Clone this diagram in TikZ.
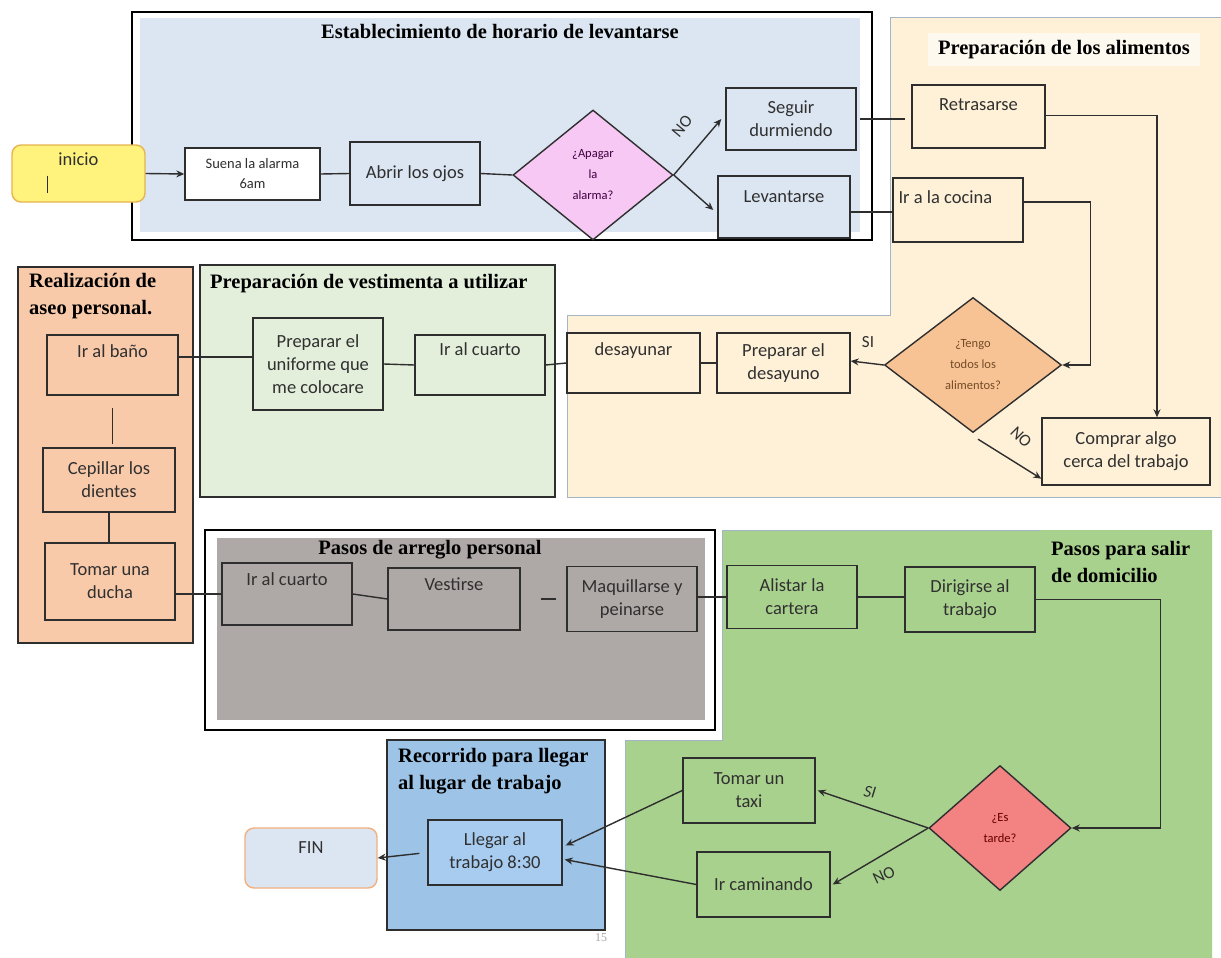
\documentclass[tikz,border=0pt]{standalone}
\usepackage{fontspec}
\usetikzlibrary{shapes.geometric,arrows.meta,calc}
\newfontfamily\boxfnt{Carlito}
\newfontfamily\ttlfnt{Liberation Serif}
\definecolor{lineclr}{HTML}{2E2E2E}
\definecolor{txtclr}{HTML}{303030}
\definecolor{estfill}{HTML}{DCE6F2}
\definecolor{pinkd}{HTML}{F6C8F3}
\definecolor{yelw}{HTML}{FFF27D}
\definecolor{yelwline}{HTML}{E6B450}
\definecolor{alimfill}{HTML}{FEF1D8}
\definecolor{alimline}{HTML}{A3B6C8}
\definecolor{orngd}{HTML}{F8C394}
\definecolor{aseofill}{HTML}{F9CAAA}
\definecolor{vestfill}{HTML}{E3EFDB}
\definecolor{grayfill}{HTML}{AEA8A6}
\definecolor{salirfill}{HTML}{A9D18E}
\definecolor{recfill}{HTML}{9DC3E6}
\definecolor{llegfill}{HTML}{A7CCF0}
\definecolor{finline}{HTML}{F2B07E}
\definecolor{redd}{HTML}{F38282}
\newcommand{\stepfont}{\boxfnt\fontsize{18.5}{23}\selectfont}
\tikzset{
  box/.style={draw=lineclr, line width=1.4pt, inner sep=2pt, align=center,
    text=txtclr, font=\stepfont},
  % text hanging from the top edge of a step box, #1 = baseline depth below the edge
  toplbl/.style={label={[anchor=base, yshift=-#1, inner sep=0pt, text=txtclr, font=\stepfont]north:\toptext}},
  dec/.style={diamond, draw=lineclr, line width=1.4pt, inner sep=0pt, align=center,
    font=\boxfnt\fontsize{12.5}{21}\selectfont},
  ttl/.style={font=\ttlfnt\bfseries\fontsize{20.5}{27}\selectfont, align=left, inner sep=0pt},
  conn/.style={draw=lineclr, line width=1.4pt},
  arr/.style={conn, -{Stealth[length=8pt,width=7pt]}},
  lbl/.style={font=\boxfnt\fontsize{17}{19}\selectfont, text=txtclr, inner sep=0pt}
}
\newcommand{\toptext}{}
\begin{document}
\begin{tikzpicture}[x=1pt,y=-1pt]
\useasboundingbox[fill=white] (0,0) rectangle (1221,958);

% ---------- group backgrounds ----------
% Preparación de los alimentos (L-shaped)
\fill[alimfill] (890,18) -- (1221,18) -- (1221,497) -- (567,497) -- (567,315) -- (890,315) -- cycle;
\draw[alimline, line width=1pt] (1221,18) -- (890,18) -- (890,315) -- (567,315) -- (567,497) -- (1221,497);
\fill[white!60!alimfill] (928,33) rectangle (1200,66);
\node[ttl] (ttlalim) at (1064,50) {Preparación de los alimentos};

% Establecimiento de horario de levantarse
\draw[black, line width=1.4pt] (132,12) rectangle (872,240);
\fill[estfill] (140,18) rectangle (860,232);
\node[ttl] (ttlest) at (500,31) {Establecimiento de horario de levantarse};

% Realización de aseo personal
\draw[lineclr, line width=1.4pt, fill=aseofill] (18,267) rectangle (193,643);
\node[ttl, anchor=north west] (ttlaseo) at (29,273) {Realización de\\aseo personal.};

% Preparación de vestimenta a utilizar
\draw[lineclr, line width=1.4pt, fill=vestfill] (200,265) rectangle (555,497);
\node[ttl, anchor=west] (ttlvest) at (210,284) {Preparación de vestimenta a utilizar};

% Pasos de arreglo personal
\draw[black, line width=1.4pt] (205,530) rectangle (715,730);
\fill[grayfill] (217,538) rectangle (705,720);
\node[ttl] (ttlarr) at (430,550) {Pasos de arreglo personal};

% Pasos para salir de domicilio (L-shaped)
\fill[salirfill] (722,530) -- (1212,530) -- (1212,958) -- (625,958) -- (625,740) -- (722,740) -- cycle;
\draw[alimline, line width=1pt] (1040,530) -- (722,530) -- (722,740) -- (625,740) -- (625,958);
\node[ttl, anchor=north west] (ttlsal) at (1051,541) {Pasos para salir\\de domicilio};

% Recorrido para llegar al lugar de trabajo
\draw[lineclr, line width=1.4pt, fill=recfill] (387,740) rectangle (605,930);
\node[ttl, anchor=north west] (ttlrec) at (398,748) {Recorrido para llegar\\al lugar de trabajo};
\node[font=\ttlfnt\fontsize{12}{14}\selectfont, text=gray!70] (pagenum) at (601,938) {15};

% ---------- steps ----------
\renewcommand{\toptext}{inicio}
\node[box, draw=yelwline, fill=yelw, rounded corners=9pt, minimum width=133, minimum height=57,
  toplbl=21pt] (inicio) at (78.5,173.5) {};
\draw[lineclr, line width=1.6pt] ($(inicio.center)+(-31,2)$) -- ++(0,17);

\node[box, fill=white, minimum width=135, minimum height=52, font=\boxfnt\fontsize{14.5}{20}\selectfont]
  (suena) at (252.5,174) {Suena la alarma\\6am};
\node[box, fill=estfill, minimum width=130, minimum height=63] (abrir) at (415,173.5) {Abrir los ojos};
\node[dec, fill=pinkd, minimum width=160, minimum height=130, text=violet!50!black] (apagar) at (593,175) {¿Apagar\\la\\alarma?};
\node[box, fill=estfill, minimum width=130, minimum height=62] (seguir) at (791,119) {Seguir\\durmiendo};
\renewcommand{\toptext}{Levantarse}
\node[box, fill=estfill, minimum width=132, minimum height=62, toplbl=27pt] (levan) at (784,207) {};

\renewcommand{\toptext}{Retrasarse}
\node[box, fill=alimfill, minimum width=133, minimum height=63, toplbl=26pt] (retras) at (978.5,116.5) {};
\node[box, fill=alimfill, minimum width=130, minimum height=64,
  label={[anchor=base west, xshift=6pt, yshift=-26pt, inner sep=0pt, text=txtclr, font=\stepfont]north west:Ir a la cocina}]
  (cocina) at (958,210) {};
\node[dec, fill=orngd, minimum width=177, minimum height=135, text=brown!60!black] (tengo) at (973,365) {¿Tengo\\todos los\\alimentos?};
\node[box, fill=alimfill, minimum width=133, minimum height=60] (prepdes) at (783.5,363) {Preparar el\\desayuno};
\renewcommand{\toptext}{desayunar}
\node[box, fill=alimfill, minimum width=133, minimum height=60, toplbl=23pt] (desay) at (633.5,363) {};
\node[box, fill=alimfill, minimum width=168, minimum height=67] (comprar) at (1126,451.5) {Comprar algo\\cerca del trabajo};

\renewcommand{\toptext}{Ir al baño}
\node[box, fill=aseofill, minimum width=131, minimum height=60, toplbl=23pt] (bano) at (112.5,365) {};
\node[box, fill=aseofill, minimum width=132, minimum height=64] (cepillar) at (109,480) {Cepillar los\\dientes};
\node[box, fill=aseofill, minimum width=130, minimum height=77] (ducha) at (110,581.5) {Tomar una\\ducha};

\node[box, fill=vestfill, minimum width=130, minimum height=92] (uniforme) at (318,364) {Preparar el\\uniforme que\\me colocare};
\renewcommand{\toptext}{Ir al cuarto}
\node[box, fill=vestfill, minimum width=130, minimum height=60, toplbl=21pt] (cuartoa) at (480,365) {};

\node[box, fill=grayfill, minimum width=130, minimum height=62, toplbl=23pt] (cuartob) at (287,594) {};
\renewcommand{\toptext}{Vestirse}
\node[box, fill=grayfill, minimum width=132, minimum height=62, toplbl=23pt] (vestirse) at (454,599) {};
\node[box, fill=grayfill, minimum width=130, minimum height=65] (maquil) at (632,599) {Maquillarse y\\peinarse};

\node[box, fill=salirfill, minimum width=130, minimum height=63] (alistar) at (792,597) {Alistar la\\cartera};
\node[box, fill=salirfill, minimum width=130, minimum height=65] (dirig) at (970,599.5) {Dirigirse al\\trabajo};
\node[dec, fill=redd, minimum width=142, minimum height=125, text=red!40!black] (tarde) at (1000,828) {¿Es\\tarde?};
\node[box, fill=salirfill, minimum width=132, minimum height=65] (taxi) at (749,790.5) {Tomar un\\taxi};
\node[box, fill=salirfill, minimum width=133, minimum height=65] (caminar) at (763.5,884.5) {Ir caminando};

\node[box, fill=llegfill, minimum width=134, minimum height=65] (llegar) at (495,852.5) {Llegar al\\trabajo 8:30};
\renewcommand{\toptext}{FIN}
\node[box, draw=finline, fill=estfill, rounded corners=9pt, minimum width=132, minimum height=60,
  toplbl=26pt] (fin) at (311,858) {};

% ---------- connectors ----------
\draw[arr] (inicio.east) -- (suena.west);
\draw[conn] (suena.east) -- (abrir.west);
\draw[conn] (abrir.east) -- (apagar.west);
\draw[arr] (apagar.east) -- ([xshift=-4pt]seguir.west);
\draw[arr] (apagar.east) -- ([xshift=-4pt,yshift=-3pt]levan.west);
\node[lbl, rotate=50] (no1) at (682,126) {NO};
\draw[conn] ([xshift=3pt]seguir.east) -- ([xshift=-6pt]retras.west |- seguir.east);
\draw[conn] ([yshift=-5pt]levan.east) -- ([yshift=-5pt]cocina.west |- levan.east);

\draw[arr] ([yshift=1pt]retras.east) -| ($(comprar.north)+(31,0)$);
\draw[arr] ([yshift=8pt]cocina.east) -- ++(67,0) |- (tengo.east);
\draw[arr] (tengo.west) -- ([yshift=2pt]prepdes.east);
\node[lbl] (si1) at (868,342) {SI};
\draw[conn] (prepdes.west) -- (desay.east);
\draw[arr] ([xshift=5pt,yshift=-6pt]tengo.south) -- ([yshift=7pt]comprar.south west);
\node[lbl, rotate=-45] (no2) at (1021,437) {NO};

\draw[conn] ([yshift=8pt]bano.east) -- ([yshift=8pt]uniforme.west |- bano.east);
\draw[conn] (uniforme.east) -- (cuartoa.west);
\draw[conn] (cuartoa.east) -- (desay.west);
\draw[conn, shorten <=12pt, shorten >=3pt] (bano.south) -- (bano.south |- cepillar.north);
\draw[conn] (cepillar.south) -- (cepillar.south |- ducha.north);

\draw[conn] (ducha.east |- cuartob.west) -- (cuartob.west);
\draw[conn] (cuartob.east) -- (vestirse.west);
\draw[conn, shorten <=20pt, shorten >=10pt] (vestirse.east) -- (vestirse.east -| maquil.west);
\draw[conn] (maquil.east |- alistar.west) -- (alistar.west);
\draw[conn] (alistar.east) -- (alistar.east -| dirig.west);

\draw[arr] (dirig.east) -- ++(125,0) |- (tarde.east);
\draw[arr] (tarde.west) -- ([xshift=2pt]taxi.east);
\node[lbl, rotate=-10, font=\boxfnt\itshape\fontsize{17}{19}\selectfont] (si2) at (870,792) {SI};
\draw[arr] (tarde.west) -- ([xshift=2pt]caminar.east);
\node[lbl, rotate=25] (no3) at (884,875) {NO};
\draw[arr] (taxi.west) -- ([xshift=3pt,yshift=7pt]llegar.east);
\draw[arr] (caminar.west) -- ([xshift=2pt,yshift=-7pt]llegar.east);
\draw[arr, shorten <=8pt] (llegar.west) -- (fin.east);
\end{tikzpicture}
\end{document}
